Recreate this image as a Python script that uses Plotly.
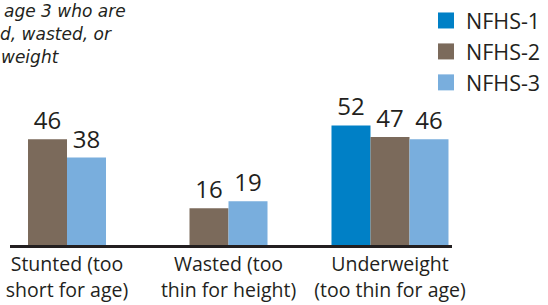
import plotly.graph_objects as go

categories = ["Stunted (too<br>short for age)", "Wasted (too<br>thin for height)", "Underweight<br>(too thin for age)"]
series_names = ["NFHS-1", "NFHS-2", "NFHS-3"]
nfhs1 = [None, None, 52]
nfhs2 = [46, 16, 47]
nfhs3 = [38, 19, 46]
title_lines = ["age 3 who are", "d, wasted, or", "weight"]

series_values = [nfhs1, nfhs2, nfhs3]
colors = ["#0080c6", "#7b6a5b", "#79aedd"]
text_color = "#231f20"
font_family = "'Open Sans', 'Noto Sans', sans-serif"

W = 0.2415  # bar width in category units

# compute offsets so that the bars present in each category are centered on it
offsets = [[0] * len(categories) for _ in series_values]
for ci in range(len(categories)):
    present = [si for si, s in enumerate(series_values) if s[ci] is not None]
    n = len(present)
    for k, si in enumerate(present):
        offsets[si][ci] = -n * W / 2 + k * W

fig = go.Figure()
for si, (name, vals) in enumerate(zip(series_names, series_values)):
    fig.add_trace(go.Bar(
        x=categories, y=vals, name=name, width=W, offset=offsets[si],
        marker=dict(color=colors[si], line=dict(width=0)),
        text=[str(v) if v is not None else "" for v in vals],
        textposition="outside", cliponaxis=False,
        textfont=dict(size=24, color=text_color, family=font_family),
        showlegend=False,
    ))
# legend entries with larger square swatches
for si, name in enumerate(series_names):
    fig.add_trace(go.Scatter(
        x=[None], y=[None], mode="markers", name=name,
        marker=dict(symbol="square", size=16, color=colors[si]),
    ))

# partially visible title, one annotation per line (pixel -> paper mapping)
L, T, PW, PH = 10, 107, 442, 138
line_left_px = [2, -2, -1]
line_mid_px = [11, 34, 57]
for txt, lx, my in zip(title_lines, line_left_px, line_mid_px):
    fig.add_annotation(
        text=txt, xref="paper", yref="paper",
        x=(lx - L) / PW, y=1 + (T - my) / PH, xanchor="left", yanchor="middle",
        align="left", showarrow=False,
        font=dict(size=17, color=text_color, family="'DejaVu Sans', sans-serif", style="italic"),
    )

fig.update_layout(
    width=548, height=305,
    margin=dict(l=L, r=548 - L - PW, t=T, b=305 - T - PH, autoexpand=False),
    paper_bgcolor="white", plot_bgcolor="white",
    barmode="overlay",
    font=dict(family=font_family, color=text_color),
    legend=dict(
        x=426 / 548, xref="container", y=1 + 8 / 305, yref="container",
        xanchor="left", yanchor="top",
        font=dict(size=21.5, color=text_color, family=font_family),
        bgcolor="rgba(0,0,0,0)", itemsizing="trace",
    ),
    xaxis=dict(
        type="category", range=[-0.353, 2.384], automargin=False,
        showline=True, linecolor=text_color, linewidth=2.5,
        showgrid=False, zeroline=False, ticks="",
        tickfont=dict(size=19.5, color=text_color, family=font_family),
    ),
    yaxis=dict(range=[0, 60], visible=False, showgrid=False, zeroline=False, automargin=False),
)

fig.write_html("out.html", config={"displayModeBar": False},
               post_script="document.body.style.margin='0px';")
